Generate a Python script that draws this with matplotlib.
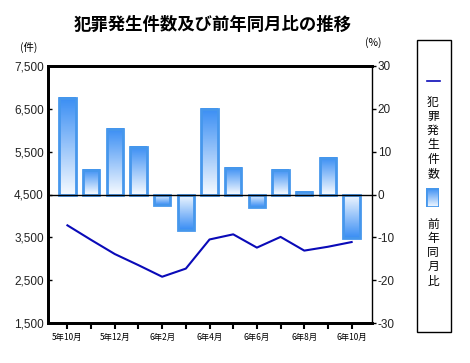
import numpy as np
import matplotlib
matplotlib.use("Agg")
import matplotlib.pyplot as plt
from matplotlib.colors import LinearSegmentedColormap
from matplotlib.patches import Rectangle

plt.rcParams['font.family'] = ['Noto Sans CJK JP', 'DejaVu Sans']

# data
months = ['5年10月', '5年11月', '5年12月', '6年1月', '6年2月', '6年3月', '6年4月',
          '6年5月', '6年6月', '6年7月', '6年8月', '6年9月', '6年10月']
counts = [3780, 3440, 3110, 2850, 2580, 2770, 3450, 3570, 3260, 3510, 3190, 3280, 3390]
yoy = [22.6, 5.8, 15.3, 11.1, -2.4, -8.4, 19.9, 6.3, -2.9, 5.8, 0.6, 8.6, -10.1]
left_ticks = [1500, 2500, 3500, 4500, 5500, 6500, 7500]
right_ticks = [-30, -20, -10, 0, 10, 20, 30]

fig = plt.figure(figsize=(4.70, 3.63), dpi=100)
ax = fig.add_axes([48/470, 1-323/363, 324/470, 257/363])
ax2 = ax.twinx()

x = np.arange(len(months))
ax.set_xlim(-0.82, 12.86)
ax.set_ylim(1500, 7500)
ax2.set_ylim(-30, 30)

# gradient bars on the percent axis
cmap = LinearSegmentedColormap.from_list('bar', ['#f4f9ff', '#3a8ef4'])
grad = np.linspace(0, 1, 100).reshape(-1, 1)
w = 0.69
for xi, v in zip(x, yoy):
    lo, hi = min(0, v), max(0, v)
    ax2.imshow(grad, cmap=cmap, extent=[xi - w/2, xi + w/2, lo, hi],
               origin='lower' if v >= 0 else 'upper', aspect='auto', zorder=2)
    ax2.add_patch(Rectangle((xi - w/2, lo), w, hi - lo, fill=False,
                            edgecolor='#4697ec', linewidth=2, zorder=3))
ax2.set_xlim(-0.82, 12.86)
ax2.axhline(0, color='black', linewidth=1, zorder=4)

# count line on the left axis, drawn above the bars
ax.plot(x, counts, color='#0a0ab8', linewidth=1.5, zorder=5)
ax.set_zorder(ax2.get_zorder() + 1)
ax.patch.set_visible(False)

# axes styling
ax.set_yticks(left_ticks)
ax.set_yticklabels([f'{t:,}' for t in left_ticks], family='Liberation Sans', fontsize=8.5,
                   color='#222222')
ax.tick_params(axis='y', direction='in', length=3, width=1, pad=3)
ax2.set_yticks(right_ticks)
ax2.set_yticklabels([str(t) for t in right_ticks], family='Liberation Sans', fontsize=8.5,
                    color='#222222')
ax2.tick_params(axis='y', direction='out', length=3, width=1, pad=1)

ax.set_xticks(x)
ax.set_xticklabels([m if i % 2 == 0 else '' for i, m in enumerate(months)], fontsize=6)
ax.tick_params(axis='x', direction='out', length=4, width=1.5, pad=3)

for s in ['top', 'bottom', 'left']:
    ax.spines[s].set_linewidth(2)
    ax2.spines[s].set_linewidth(2)
ax2.spines['right'].set_linewidth(1)
ax.spines['right'].set_visible(False)

fig.text(213/470, 1-25/363, '犯罪発生件数及び前年同月比の推移', ha='center', va='center',
         fontsize=12.5, fontweight='bold')
fig.text(29/470, 1-47/363, '(件)', ha='center', va='center', fontsize=7.5)
fig.text(373/470, 1-43/363, '(%)', ha='center', va='center', fontsize=7.5)

# legend box drawn by hand
fig.patches.append(Rectangle((417/470, 1-332/363), 34/470, 292/363, transform=fig.transFigure,
                             fill=False, edgecolor='black', linewidth=1))
fig.lines.append(plt.Line2D([427/470, 440/470], [1-81/363, 1-81/363], transform=fig.transFigure,
                            color='#0a0ab8', linewidth=1.2))
for i, ch in enumerate('犯罪発生件数'):
    fig.text(433/470, 1-(102 + i*14.3)/363, ch, ha='center', va='center', fontsize=8.5)
lax = fig.add_axes([426/470, 1-207/363, 13/470, 19/363])
lax.imshow(grad, cmap=cmap, origin='lower', aspect='auto', extent=[0, 1, 0, 1])
lax.add_patch(Rectangle((0, 0), 1, 1, fill=False, edgecolor='#4697ec', linewidth=2))
lax.set_axis_off()
for i, ch in enumerate('前年同月比'):
    fig.text(433/470, 1-(224 + i*14.3)/363, ch, ha='center', va='center', fontsize=8.5)

fig.savefig('out.png', dpi=100)
